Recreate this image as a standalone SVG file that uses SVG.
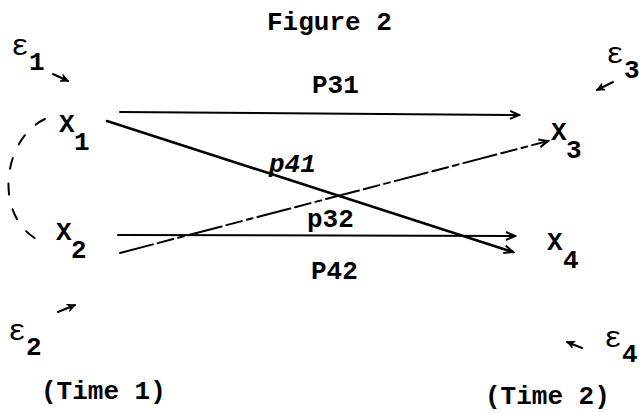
<svg xmlns="http://www.w3.org/2000/svg" width="639" height="413" viewBox="0 0 639 413">
<style>
text{font-family:"Liberation Mono","DejaVu Sans Mono",monospace;font-size:26px;font-weight:bold;fill:#000}
.it{font-style:italic}
.eps{font-size:30px;font-weight:normal}
.ln{fill:none;stroke:#000;stroke-width:2;stroke-linecap:round}
.thick{stroke-width:2.6}
.dash{stroke-dasharray:34 5 16 5 6 5}
.curve{stroke-dasharray:11 15}
</style>
<defs>
<marker id="arr" viewBox="-10 -5 12 10" refX="0" refY="0" markerWidth="12" markerHeight="10" markerUnits="userSpaceOnUse" orient="auto">
<path d="M-9,-4 L0,0 L-9,4" fill="none" stroke="#000" stroke-width="2"/>
</marker>
<marker id="sm" viewBox="-8 -4 9 8" refX="0" refY="0" markerWidth="9" markerHeight="8" markerUnits="userSpaceOnUse" orient="auto">
<path d="M-7,-3.5 L0,0 L-7,3.5 L-5,0 Z" fill="#000" stroke="#000" stroke-width="1"/>
</marker>
</defs>
<rect width="639" height="413" fill="#fff"/>
<text x="267" y="30">Figure 2</text>
<g id="connectors">
<path class="ln" d="M120,112 L519,115" marker-end="url(#arr)"/>
<path class="ln thick" d="M107,121 L513,252" marker-end="url(#arr)"/>
<path class="ln" d="M118,235 L515,236" marker-end="url(#arr)"/>
<path class="ln dash" d="M120,253 L548,141" marker-end="url(#arr)"/>
<path class="ln curve" d="M45,119 C0,140 -8,225 47,244"/>
<path class="ln" d="M53,74 L68,81" marker-end="url(#sm)"/>
<path class="ln" d="M613,82 L597,90" marker-end="url(#sm)"/>
<path class="ln" d="M58,312 L75,305" marker-end="url(#sm)"/>
<path class="ln" d="M582,348 L567,342" marker-end="url(#sm)"/>
<text x="312" y="93">P31</text>
<text class="it" x="269" y="172">p41</text>
<text x="307" y="227">p32</text>
<text x="311" y="279">P42</text>
</g>
<g id="X1"><text x="59" y="132">X</text><text x="74" y="150">1</text></g>
<g id="X2"><text x="56" y="240">X</text><text x="71" y="258">2</text></g>
<g id="X3"><text x="551" y="140">X</text><text x="566" y="158">3</text></g>
<g id="X4"><text x="547" y="250">X</text><text x="563" y="268">4</text></g>
<g id="e1"><text class="eps" x="11" y="55">ε</text><text x="29" y="70">1</text></g>
<g id="e2"><text class="eps" x="8" y="340">ε</text><text x="26" y="355">2</text></g>
<g id="e3"><text class="eps" x="606" y="63">ε</text><text x="624" y="78">3</text></g>
<g id="e4"><text class="eps" x="604" y="347">ε</text><text x="622" y="362">4</text></g>
<text x="41" y="399">(Time 1)</text>
<text x="485" y="404">(Time 2)</text>
</svg>
